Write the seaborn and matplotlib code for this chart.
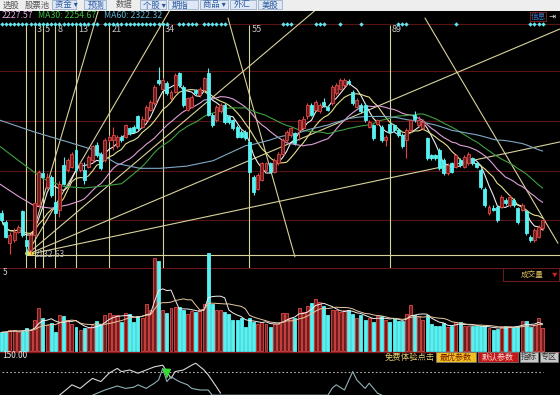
import numpy as np
import pandas as pd
import matplotlib
matplotlib.use("Agg")
import matplotlib.pyplot as plt
from matplotlib.patches import Rectangle
import seaborn as sns

# ---- daily candles (index points) ----
opens = [2209, 2193, 2154, 2160, 2175, 2212, 2160, 2142, 2169, 2224,
         2282, 2257, 2276, 2230, 2215, 2297, 2288, 2294, 2325, 2288,
         2288, 2294, 2306, 2334, 2318, 2306, 2343, 2343, 2331, 2349,
         2349, 2364, 2367, 2386, 2367, 2379, 2398, 2410, 2453, 2437,
         2447, 2419, 2431, 2465, 2440, 2398, 2404, 2434, 2425, 2434,
         2465, 2389, 2379, 2395, 2407, 2386, 2379, 2367, 2358, 2358,
         2340, 2276, 2254, 2270, 2288, 2300, 2285, 2300, 2318, 2343,
         2352, 2355, 2361, 2364, 2386, 2407, 2398, 2395, 2413, 2404,
         2410, 2428, 2437, 2443, 2450, 2431, 2404, 2407, 2407, 2367,
         2370, 2373, 2367, 2343, 2373, 2370, 2361, 2352, 2343, 2361,
         2389, 2370, 2364, 2346, 2315, 2315, 2325, 2306, 2282, 2300,
         2294, 2306, 2294, 2300, 2309, 2300, 2288, 2254, 2209, 2218,
         2221, 2221, 2233, 2224, 2233, 2218, 2215, 2212, 2166, 2160,
         2166, 2181]
highs = [2215, 2196, 2175, 2181, 2187, 2215, 2166, 2172, 2230, 2288,
         2288, 2282, 2279, 2233, 2267, 2312, 2309, 2321, 2328, 2303,
         2303, 2315, 2334, 2340, 2321, 2346, 2352, 2367, 2352, 2352,
         2373, 2367, 2370, 2389, 2386, 2407, 2416, 2443, 2477, 2456,
         2450, 2434, 2465, 2468, 2443, 2422, 2425, 2437, 2440, 2459,
         2474, 2392, 2407, 2410, 2410, 2389, 2382, 2370, 2361, 2361,
         2343, 2279, 2282, 2303, 2303, 2303, 2309, 2321, 2346, 2361,
         2367, 2358, 2382, 2386, 2410, 2410, 2416, 2410, 2419, 2407,
         2443, 2447, 2456, 2456, 2454, 2434, 2419, 2410, 2410, 2379,
         2373, 2382, 2370, 2352, 2376, 2373, 2364, 2355, 2364, 2382,
         2395, 2386, 2382, 2349, 2318, 2318, 2328, 2309, 2300, 2303,
         2318, 2309, 2315, 2321, 2312, 2303, 2291, 2257, 2224, 2224,
         2224, 2242, 2236, 2242, 2236, 2221, 2227, 2215, 2169, 2181,
         2187, 2199]
lows = [2190, 2163, 2135, 2157, 2172, 2166, 2132.63, 2135, 2166, 2221,
        2273, 2254, 2239, 2206, 2202, 2260, 2285, 2291, 2285, 2285,
        2263, 2291, 2303, 2312, 2288, 2303, 2340, 2325, 2328, 2340,
        2346, 2352, 2355, 2361, 2364, 2376, 2395, 2407, 2443, 2434,
        2425, 2416, 2428, 2440, 2404, 2395, 2401, 2425, 2422, 2431,
        2386, 2367, 2376, 2392, 2373, 2373, 2361, 2346, 2346, 2343,
        2282, 2242, 2251, 2267, 2285, 2282, 2282, 2297, 2315, 2340,
        2349, 2334, 2343, 2361, 2382, 2386, 2395, 2392, 2404, 2395,
        2407, 2425, 2434, 2440, 2443, 2407, 2401, 2392, 2376, 2364,
        2343, 2370, 2340, 2331, 2355, 2358, 2349, 2328, 2309, 2358,
        2376, 2367, 2361, 2306, 2306, 2306, 2288, 2279, 2279, 2282,
        2291, 2294, 2291, 2297, 2297, 2291, 2254, 2221, 2206, 2212,
        2193, 2218, 2224, 2221, 2221, 2190, 2212, 2169, 2157, 2157,
        2163, 2178]
closes = [2196, 2166, 2169, 2175, 2184, 2169, 2148, 2169, 2227, 2285,
          2276, 2276, 2242, 2209, 2263, 2263, 2306, 2318, 2288, 2300,
          2270, 2312, 2331, 2315, 2291, 2343, 2349, 2352, 2349, 2343,
          2370, 2355, 2358, 2364, 2382, 2404, 2413, 2440, 2447, 2453,
          2428, 2431, 2462, 2443, 2407, 2419, 2422, 2428, 2437, 2456,
          2389, 2370, 2404, 2407, 2376, 2376, 2364, 2349, 2349, 2346,
          2285, 2248, 2279, 2300, 2300, 2285, 2306, 2318, 2343, 2358,
          2364, 2337, 2379, 2382, 2407, 2389, 2413, 2407, 2407, 2398,
          2440, 2443, 2453, 2453, 2447, 2410, 2416, 2395, 2379, 2376,
          2346, 2379, 2343, 2349, 2358, 2361, 2352, 2331, 2361, 2379,
          2382, 2379, 2376, 2309, 2309, 2309, 2291, 2282, 2297, 2285,
          2315, 2297, 2312, 2318, 2300, 2294, 2257, 2224, 2221, 2215,
          2196, 2239, 2227, 2239, 2224, 2193, 2224, 2172, 2160, 2178,
          2184, 2196]
volume = [28, 29, 32, 31, 29, 30, 35, 31, 46, 65,
          50, 39, 42, 29, 54, 52, 46, 41, 36, 31,
          34, 34, 39, 45, 41, 54, 57, 54, 54, 44,
          57, 56, 44, 53, 49, 70, 61, 139, 135, 61,
          57, 65, 66, 66, 62, 56, 60, 59, 61, 71,
          147, 70, 62, 61, 59, 56, 47, 47, 49, 36,
          49, 44, 41, 44, 41, 36, 41, 41, 57, 57,
          50, 50, 65, 59, 67, 72, 78, 74, 67, 54,
          61, 61, 59, 61, 61, 56, 49, 54, 47, 49,
          44, 52, 53, 47, 44, 49, 45, 45, 56, 69,
          54, 52, 47, 54, 41, 37, 37, 42, 36, 38,
          44, 43, 38, 37, 37, 37, 37, 37, 34, 32,
          33, 37, 37, 37, 36, 37, 45, 45, 36, 39,
          49, 34]

# moving-average lines before their window fills (bar, value)
ma20_head_bar = [-0.4, 4, 8, 12, 16]
ma20_head_val = [2262, 2240, 2222, 2218, 2224]
ma30_head_bar = [-0.4, 5, 10, 15, 20, 25]
ma30_head_val = [2331, 2300, 2272, 2258, 2255, 2259]
ma60_head_bar = [-0.4, 7.7, 15.7, 22.2, 27.8, 33.5, 38.3, 44.8, 51.2]
ma60_head_val = [2379, 2358, 2340, 2325, 2300, 2291, 2291, 2295, 2305]

# signal diamonds (bar numbers) along the top row
signal_bars = ([*range(0, 24)] + [*range(25, 41)] + [*range(43, 48)] + [49, 50, 51, 52, 53, 54]
               + [68, 69, 70, 76, 77, 78, 82, 87, 96, 97, 98, 110, 128, 129, 130, 131])

# Fibonacci time zones, counted from bar 5
fib_start = 5
fib_steps = [1, 3, 5, 8, 13, 21, 34, 55, 89]
fib_labels = ["", "3", "5", "8", "13", "21", "34", "55", "89"]

# Gann fan from the low (bar 6, 2132.63): slopes in points per bar
fan_origin = (6, 2132.63)
fan_slopes = [0.0, 1.6, 3.2, 6.4, 12.9, 25.7]
# falling trend lines: (bar, price) start and end
down_lines = [((54.8, 2566), (71.0, 2129)), ((102.5, 2566), (134.7, 2154))]

# lower indicator, two lines (bar, value)
ind_a_bar = [14, 16, 17, 19, 21, 22, 24, 26, 28, 29, 31, 33, 35, 37, 39, 40, 41, 42, 44, 46, 47, 49, 50, 52, 53]
ind_a_val = [42, 59, 68, 59, 76, 84, 76, 97, 109, 101, 105, 97, 105, 113, 117, 101, 84, 101, 105, 117, 122, 105, 93, 63, 47]
ind_b_bar = [22, 25, 28, 30, 32, 33, 35, 37, 38, 39, 40, 41, 43, 45, 46, 48, 50, 51,
             79, 80, 81, 83, 85, 86, 88, 89, 91, 93]
ind_b_val = [42, 55, 65, 59, 62, 68, 59, 72, 80, 109, 76, 88, 76, 68, 59, 55, 55, 42,
             42, 59, 68, 55, 101, 80, 59, 72, 47, 38]

# ---- layout helpers (pixels of a 560x395 picture) ----
W, H = 560, 395
def box(x0, y0, x1, y1):
    return [x0 / W, 1 - y1 / H, (x1 - x0) / W, (y1 - y0) / H]

RED, REDFILL, CYAN = "#e04848", "#6e1c1c", "#58f0f0"
FIB = "#d8d29a"
GRID = "#5a1414"

sns.set_theme(style="dark", rc={"axes.facecolor": "black", "figure.facecolor": "black"})
plt.rcParams["font.family"] = ["Noto Sans CJK SC", "DejaVu Sans"]

fig = plt.figure(figsize=(5.6, 3.95), dpi=100, facecolor="black")
idx = np.arange(len(closes))
xlim = (-0.404, 135.19)

df = pd.DataFrame({"o": opens, "h": highs, "l": lows, "c": closes, "v": volume})
up = df.c >= df.o

def clean(ax):
    ax.set_facecolor("black")
    ax.set_xticks([])
    ax.set_yticks([])
    ax.set_xlabel("")
    ax.set_ylabel("")
    for s in ax.spines.values():
        s.set_visible(False)

# ---- price panel ----
ax = fig.add_axes(box(0, 11, 560, 268))
ax.set_xlim(*xlim)
ax.set_ylim(2108.6, 2578.9)
for g in [2196, 2287, 2378, 2469, 2556]:
    ax.axhline(g, color=GRID, lw=0.8, zorder=0)

ax.vlines([fib_start + n for n in fib_steps], 2108.6, 2553, color=FIB, lw=0.8, zorder=1)
for n, lab in zip(fib_steps, fib_labels):
    ax.text(fib_start + n + 0.5, 2545, lab, color="#c8c8c8", fontsize=6.5, va="center", ha="left")

ox, oy = fan_origin
for k in fan_slopes:
    ax.plot([ox, 140], [oy, oy + k * (140 - ox)], color=FIB, lw=0.8, zorder=1)
for (x0, y0), (x1, y1) in down_lines:
    ax.plot([x0, x1], [y0, y1], color=FIB, lw=0.8, zorder=1)
ax.text(8, 2133, "2132.63", color="#b8b8b8", fontsize=6, va="center", ha="left")
ax.plot([ox, ox + 1.3], [oy + 3, oy + 3], color="#f0e040", lw=2.2, zorder=3)

ax.scatter(signal_bars, [2555] * len(signal_bars), marker="D", s=5, color="#60e8f0", zorder=3, lw=0)

heads = {20: (ma20_head_bar, ma20_head_val), 30: (ma30_head_bar, ma30_head_val),
         60: (ma60_head_bar, ma60_head_val)}
ma_cols = {5: "#ececec", 10: "#e6e08c", 20: "#e0a0d8", 30: "#3ea040", 60: "#7fa8c4"}
for n, col in ma_cols.items():
    ma = df.c.rolling(n, min_periods=1 if n not in heads else n).mean()
    xs, ys = list(idx), list(ma)
    if n in heads:
        xs = heads[n][0] + list(idx[n - 1:])
        ys = heads[n][1] + list(ma[n - 1:])
    sns.lineplot(x=xs, y=ys, ax=ax, color=col, lw=0.8, zorder=2)

ax.vlines(idx, df.l, df.h, colors=np.where(up, RED, CYAN), lw=0.8, zorder=4)
body_lo = np.minimum(df.o, df.c)
body_h = np.maximum(np.abs(df.c - df.o), 1.2)
ax.bar(idx, body_h, bottom=body_lo, width=0.72, color=np.where(up, REDFILL, CYAN),
       edgecolor=np.where(up, RED, CYAN), lw=0.6, zorder=5)
clean(ax)

# ---- volume panel ----
av = fig.add_axes(box(0, 268, 560, 352))
av.set_xlim(*xlim)
av.set_ylim(-1.5, 124.5)
av.axhline(124.5, color="#8a1a1a", lw=1.2)
av.bar(idx, df.v, width=0.72, color=np.where(up, REDFILL, CYAN),
       edgecolor=np.where(up, RED, CYAN), lw=0.6, clip_on=False, zorder=3)
sns.lineplot(x=idx, y=df.v.rolling(5, min_periods=1).mean(), ax=av, color="#f0f0f0", lw=0.7, zorder=4)
sns.lineplot(x=idx, y=df.v.rolling(10, min_periods=1).mean(), ax=av, color="#e8c8a0", lw=0.7, zorder=4)
clean(av)
av.text(0.3, 118, "5", color="#d0d0d0", fontsize=6, va="center")
av.add_patch(Rectangle((121.5, 105), 13.5, 19, facecolor="black", edgecolor="#6a1a1a", lw=0.8, zorder=6))
av.text(128.5, 114, "成交量", color="#e0c060", fontsize=5.5, ha="center", va="center", zorder=7)
av.text(133.8, 114, "▼", color="#d02020", fontsize=4, ha="center", va="center", zorder=7)

# ---- indicator panel ----
ai = fig.add_axes(box(0, 352, 560, 395))
ai.set_xlim(*xlim)
ai.set_ylim(42.5, 150)
ai.axhline(150, color="#8a1a1a", lw=1.0)
ai.plot([0, 131], [100, 100], color="#b0b0b0", lw=0.8, ls=(0, (1.5, 2)))
sns.lineplot(x=ind_a_bar, y=ind_a_val, ax=ai, color="#d8d8d8", lw=0.8)
sns.lineplot(x=ind_b_bar, y=ind_b_val, ax=ai, color="#8fb0b8", lw=0.8)
ai.annotate("", xy=(40, 78), xytext=(40, 96), arrowprops=dict(arrowstyle="-|>", color="#30e030", lw=1.2))
clean(ai)
ai.text(0.2, 140, "150.00", color="#e8e8e8", fontsize=6, va="center")

# bottom right buttons
fig.text(385 / W, 1 - 357 / H, "免费体验点击", color="#e8d070", fontsize=6, va="center")
for x0, x1, fc, tc, lab in [(436, 476, "#f0c020", "#7a1a00", "最优参数"),
                            (478, 518, "#c41818", "#f6dada", "默认参数"),
                            (520, 538, "#c8c8c8", "#303030", "指标"),
                            (540, 558, "#c8c8c8", "#303030", "专区")]:
    fig.patches.append(Rectangle((x0 / W, 1 - 362 / H), (x1 - x0) / W, 10 / H,
                                 transform=fig.transFigure, facecolor=fc, edgecolor="#808080", lw=0.5))
    fig.text((x0 + x1) / 2 / W, 1 - 357 / H, lab, color=tc, fontsize=5.8, ha="center", va="center")

# ---- toolbar and header ----
tb = fig.add_axes(box(0, 0, 560, 10.5))
clean(tb)
tb.set_facecolor("#eeeeee")
tb.set_xlim(0, 560)
tb.set_ylim(10.5, 0)
for x0, x1 in [(52, 76), (84, 106), (140, 166), (168, 198), (200, 228), (230, 256), (258, 282)]:
    tb.add_patch(Rectangle((x0, 0), x1 - x0, 9, facecolor="#dfe8f4", edgecolor="#9ab0cc", lw=0.6))
for x, lab, col in [(3, "选股", "#555555"), (25, "股票池", "#555555"), (55, "资金 ▾", "#2a5aa0"),
                    (88, "预测", "#2a5aa0"), (116, "数据", "#555555"), (143, "个股 ▾", "#2a5aa0"),
                    (172, "期指", "#2a5aa0"), (203, "商品 ▾", "#2a5aa0"), (234, "外汇", "#2a5aa0"),
                    (262, "美股", "#2a5aa0")]:
    tb.text(x, 5, lab, color=col, fontsize=6, va="center", ha="left")

fig.text(2 / W, 1 - 15 / H, "2227.57", color="#e0a8e0", fontsize=6.3, va="center")
fig.text(38 / W, 1 - 15 / H, "MA30: 2254.67", color="#40c040", fontsize=6.3, va="center")
fig.text(104 / W, 1 - 15 / H, "MA60: 2322.32", color="#60b0d0", fontsize=6.3, va="center")
fig.patches.append(Rectangle((530 / W, 1 - 21 / H), 16 / W, 9 / H, transform=fig.transFigure,
                             facecolor="black", edgecolor="#902020", lw=0.6))
fig.text(538 / W, 1 - 16.5 / H, "信息", color="#4080d0", fontsize=5.5, ha="center", va="center")
fig.text(552 / W, 1 - 16.5 / H, "⇥", color="#e0e0e0", fontsize=6, ha="center", va="center")

fig.savefig("out.png", dpi=100, facecolor="black")
